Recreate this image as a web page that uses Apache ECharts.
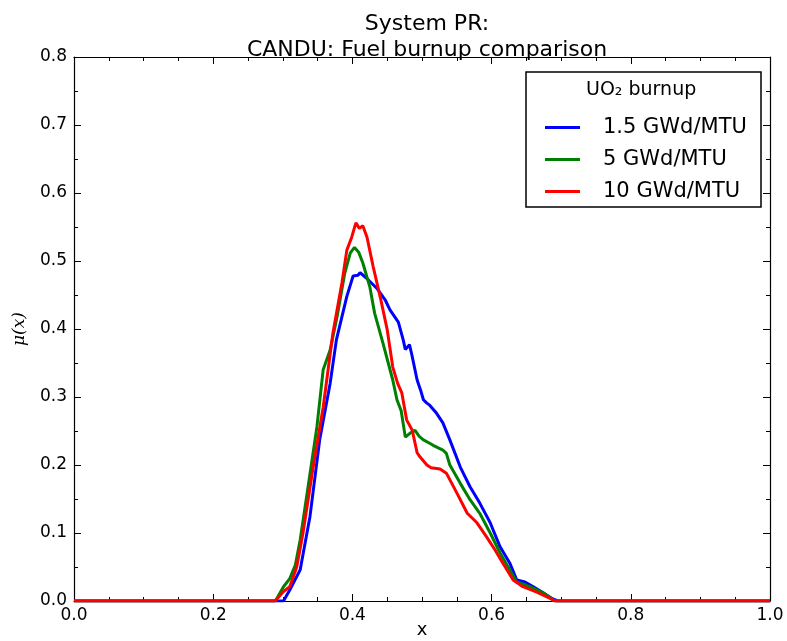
<!DOCTYPE html>
<html>
<head>
<meta charset="utf-8">
<script src="https://cdn.jsdelivr.net/npm/echarts@6/dist/echarts.min.js"></script>
<style>html,body{margin:0;padding:0;background:#fff;}#c{width:787px;height:641px;}</style>
</head>
<body>
<div id="c"></div>
<script>
const seriesNames = ['1.5 GWd/MTU', '5 GWd/MTU', '10 GWd/MTU'];
const seriesColors = ['#0000ff', '#008000', '#ff0000'];

const xBlue = [0, 0.295, 0.301, 0.310, 0.325, 0.339, 0.353, 0.368, 0.377, 0.392, 0.401, 0.408, 0.411, 0.420, 0.435, 0.447, 0.454, 0.466, 0.473, 0.476, 0.482, 0.485, 0.493, 0.498, 0.502, 0.507, 0.511, 0.521, 0.530, 0.540, 0.555, 0.569, 0.583, 0.598, 0.612, 0.626, 0.636, 0.648, 0.660, 0.674, 0.688, 0.695, 1];
const yBlue = [0, 0, 0.000, 0.016, 0.046, 0.124, 0.237, 0.320, 0.384, 0.448, 0.478, 0.479, 0.483, 0.475, 0.460, 0.443, 0.428, 0.410, 0.384, 0.370, 0.377, 0.364, 0.325, 0.310, 0.296, 0.291, 0.288, 0.276, 0.262, 0.237, 0.197, 0.168, 0.144, 0.115, 0.080, 0.056, 0.031, 0.028, 0.021, 0.012, 0.003, 0, 0];

const xGreen = [0, 0.289, 0.291, 0.301, 0.310, 0.318, 0.325, 0.335, 0.349, 0.358, 0.368, 0.378, 0.389, 0.397, 0.403, 0.409, 0.415, 0.425, 0.432, 0.444, 0.458, 0.464, 0.470, 0.476, 0.483, 0.490, 0.496, 0.502, 0.511, 0.516, 0.530, 0.535, 0.540, 0.555, 0.569, 0.583, 0.598, 0.612, 0.626, 0.636, 0.655, 0.674, 0.691, 1];
const yGreen = [0, 0, 0.003, 0.021, 0.033, 0.053, 0.090, 0.159, 0.256, 0.340, 0.369, 0.418, 0.482, 0.512, 0.520, 0.513, 0.497, 0.462, 0.423, 0.379, 0.325, 0.296, 0.280, 0.241, 0.247, 0.251, 0.242, 0.237, 0.232, 0.229, 0.222, 0.217, 0.200, 0.173, 0.149, 0.129, 0.100, 0.071, 0.046, 0.028, 0.021, 0.012, 0, 0];

const xRed = [0, 0.289, 0.291, 0.301, 0.310, 0.320, 0.329, 0.343, 0.358, 0.372, 0.385, 0.392, 0.399, 0.405, 0.410, 0.415, 0.421, 0.430, 0.440, 0.450, 0.458, 0.465, 0.471, 0.478, 0.486, 0.493, 0.497, 0.507, 0.513, 0.526, 0.535, 0.550, 0.565, 0.579, 0.593, 0.605, 0.616, 0.631, 0.645, 0.665, 0.684, 0.690, 1];
const yRed = [0, 0, 0.002, 0.014, 0.021, 0.050, 0.100, 0.193, 0.285, 0.394, 0.468, 0.516, 0.535, 0.556, 0.548, 0.552, 0.535, 0.491, 0.447, 0.399, 0.344, 0.320, 0.306, 0.266, 0.251, 0.218, 0.212, 0.200, 0.196, 0.194, 0.188, 0.159, 0.129, 0.115, 0.094, 0.075, 0.056, 0.031, 0.021, 0.013, 0.004, 0, 0];

const xTicks = [0, 1, 0.2];
const yTicks = [0, 0.8, 0.1];

const xs = [xBlue, xGreen, xRed];
const ys = [yBlue, yGreen, yRed];

const FONT = 'DejaVu Sans';
const chart = echarts.init(document.getElementById('c'), null, {renderer: 'canvas'});

function axisCommon(showLabel, minorSplit) {
  return {
    type: 'value',
    axisLine: {show: true, onZero: false, lineStyle: {color: '#000', width: 1.2}},
    axisTick: {show: true, inside: true, length: 7, lineStyle: {color: '#000', width: 1}},
    minorTick: {show: true, splitNumber: minorSplit, length: 4, lineStyle: {color: '#000', width: 1}},
    splitLine: {show: false},
    minorSplitLine: {show: false},
    axisLabel: {show: showLabel, color: '#000', fontSize: 17, fontFamily: FONT, formatter: v => v.toFixed(1)}
  };
}

const series = seriesNames.map((n, i) => ({
  name: n,
  type: 'line',
  data: xs[i].map((x, j) => [x, ys[i][j]]),
  showSymbol: false,
  symbol: 'none',
  smooth: false,
  lineStyle: {color: seriesColors[i], width: 3},
  itemStyle: {color: seriesColors[i]},
  animation: false,
  clip: true
}));

chart.setOption({
  animation: false,
  backgroundColor: '#fff',
  title: {
    text: 'System PR:\nCANDU: Fuel burnup comparison',
    left: 422, top: 6, textAlign: 'center',
    textStyle: {fontFamily: FONT, fontSize: 22, fontWeight: 'normal', color: '#000', lineHeight: 26}
  },
  grid: {left: 74, right: 17, top: 57, bottom: 40, containLabel: false, outerBoundsMode: 'none'},
  xAxis: [
    Object.assign(axisCommon(true, 4), {
      min: xTicks[0], max: xTicks[1], interval: xTicks[2], position: 'bottom',
      name: 'x', nameLocation: 'middle', nameGap: 20, nameMoveOverlap: false,
      nameTextStyle: {fontFamily: FONT, fontSize: 18, color: '#000'},
      axisLabel: {show: true, color: '#000', fontSize: 17, fontFamily: FONT, margin: 6, formatter: v => v.toFixed(1)}
    }),
    Object.assign(axisCommon(false, 4), {min: xTicks[0], max: xTicks[1], interval: xTicks[2], position: 'top'})
  ],
  yAxis: [
    Object.assign(axisCommon(true, 2), {
      min: yTicks[0], max: yTicks[1], interval: yTicks[2], position: 'left',
      name: 'μ(x)', nameLocation: 'middle', nameGap: 46, nameRotate: 90, nameMoveOverlap: false,
      nameTextStyle: {fontFamily: 'DejaVu Serif', fontStyle: 'italic', fontSize: 17, color: '#000'},
      axisLabel: {show: true, color: '#000', fontSize: 17, fontFamily: FONT, margin: 7, formatter: v => v.toFixed(1)}
    }),
    Object.assign(axisCommon(false, 2), {min: yTicks[0], max: yTicks[1], interval: yTicks[2], position: 'right'})
  ],
  legend: {
    orient: 'vertical',
    left: 540, top: 112,
    icon: 'rect',
    itemWidth: 35, itemHeight: 3,
    itemGap: 11,
    data: seriesNames,
    formatter: n => '{t|' + n + '}',
    textStyle: {
      color: '#000', fontFamily: FONT, fontSize: 21,
      rich: {t: {fontFamily: FONT, fontSize: 21, color: '#000', padding: [0, 0, 0, 18]}}
    }
  },
  graphic: [
    {type: 'rect', shape: {x: 526, y: 72, width: 235, height: 135}, style: {fill: '#fff', stroke: '#000', lineWidth: 1.5}, z: 3},
    {type: 'text', x: 586, y: 90, style: {text: 'UO₂ burnup', fontFamily: FONT, fontSize: 19, fill: '#000', textVerticalAlign: 'middle', verticalAlign: 'middle'}, z: 4}
  ],
  series: series
});
</script>
</body>
</html>
